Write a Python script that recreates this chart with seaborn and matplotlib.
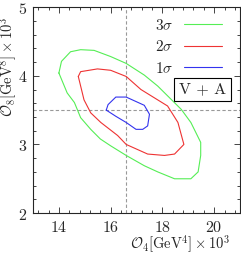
import matplotlib
matplotlib.use('Agg')
import matplotlib.pyplot as plt
from matplotlib.ticker import AutoMinorLocator
import seaborn as sns
import pandas as pd

# contour outlines (O4 x 1e3, O8 x 1e3)
levels = ['3σ', '2σ', '1σ']
x_3sig = [14.0, 14.1, 14.45, 14.84, 15.36, 16.0, 16.6, 17.3, 17.82, 18.73, 19.1, 19.48,
          19.48, 19.38, 19.1, 18.47, 17.82, 17.3, 16.6, 16.0, 15.6, 15.23, 14.84, 14.6,
          14.32, 14.0]
y_3sig = [4.04, 4.21, 4.35, 4.38, 4.37, 4.28, 4.18, 4.01, 3.85, 3.51, 3.32, 3.03,
          2.84, 2.60, 2.50, 2.50, 2.60, 2.69, 2.84, 2.98, 3.08, 3.22, 3.39, 3.61,
          3.75, 4.04]
x_2sig = [14.75, 14.84, 15.49, 16.0, 16.6, 17.17, 18.2, 18.6, 18.83, 18.47, 18.08,
          17.43, 16.6, 16.27, 15.62, 15.23, 14.97, 14.75]
y_2sig = [3.99, 4.06, 4.10, 4.08, 3.99, 3.80, 3.56, 3.32, 3.0, 2.86, 2.84,
          2.86, 3.0, 3.13, 3.32, 3.46, 3.65, 3.99]
x_1sig = [15.83, 15.9, 16.2, 16.6, 17.3, 17.5, 17.43, 17.24, 16.98, 16.6, 16.2, 15.83]
y_1sig = [3.50, 3.58, 3.69, 3.69, 3.57, 3.44, 3.27, 3.22, 3.22, 3.32, 3.41, 3.50]

center_x = 16.6
center_y = 3.5
xticks = [14, 16, 18, 20]
yticks = [2, 3, 4, 5]

frames = []
for lab, xs, ys in zip(levels, [x_3sig, x_2sig, x_1sig], [y_3sig, y_2sig, y_1sig]):
    d = pd.DataFrame({'O4': xs, 'O8': ys})
    d['level'] = lab
    frames.append(d)
df = pd.concat(frames, ignore_index=True)

sns.set_style('ticks')
plt.rcParams['font.family'] = ['DejaVu Serif']
plt.rcParams['mathtext.fontset'] = 'cm'
plt.rcParams['font.size'] = 10

fig = plt.figure(figsize=(2.41, 2.54), dpi=100)
ax = fig.add_axes([0.137, 0.161, 0.859, 0.811])

ax.axvline(center_x, color='#999999', ls='--', lw=0.8, dashes=(3, 2))
ax.axhline(center_y, color='#999999', ls='--', lw=0.8, dashes=(3, 2))

palette = {'3σ': '#55ee55', '2σ': '#ee3333', '1σ': '#3333ee'}
sns.lineplot(data=df, x='O4', y='O8', hue='level', hue_order=levels, palette=palette,
             sort=False, estimator=None, lw=0.8, ax=ax)

handles, labels = ax.get_legend_handles_labels()
labels = [r'$3\sigma$', r'$2\sigma$', r'$1\sigma$']
ax.legend(handles, labels, loc='upper right', frameon=False, markerfirst=False,
          handlelength=2.5, handletextpad=0.7, labelspacing=0.42, fontsize=11,
          bbox_to_anchor=(0.965, 1.0), borderaxespad=0.3)

ax.text(0.82, 0.60, 'V + A', transform=ax.transAxes, ha='center', va='center',
        fontsize=11.5, family='cmr10',
        bbox=dict(boxstyle='square,pad=0.3', fc='white', ec='black', lw=0.8))

ax.set_xlim(13, 21)
ax.set_ylim(2, 5)
ax.set_xticks(xticks)
ax.set_yticks(yticks)
ax.set_xticklabels([f'${v}$' for v in xticks])
ax.set_yticklabels([f'${v}$' for v in yticks])
ax.xaxis.set_minor_locator(AutoMinorLocator(5))
ax.yaxis.set_minor_locator(AutoMinorLocator(5))
ax.tick_params(which='both', direction='in', top=True, right=True, width=0.6)
ax.tick_params(which='major', length=4, labelsize=11.5, pad=4)
ax.tick_params(which='minor', length=2)
for s in ax.spines.values():
    s.set_linewidth(0.8)

ax.set_xlabel(r'$\mathcal{O}_4[\mathrm{GeV}^4]\times 10^3$', fontsize=10.5)
ax.set_ylabel(r'$\mathcal{O}_8[\mathrm{GeV}^8]\times 10^3$', fontsize=10.5)
ax.xaxis.set_label_coords(0.71, -0.1)
ax.yaxis.set_label_coords(-0.066, 0.71)

fig.savefig('out.png', dpi=100)
plt.close()
